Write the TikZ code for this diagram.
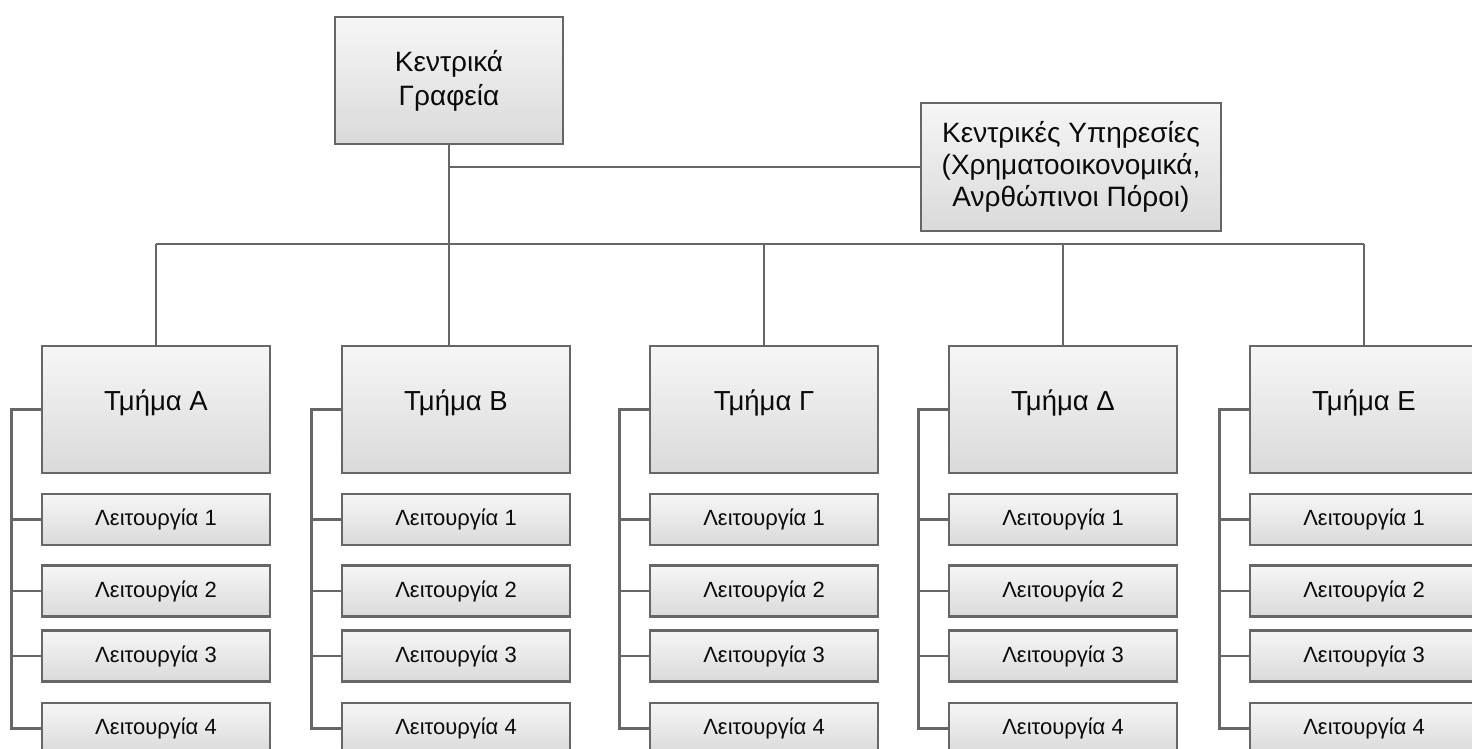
\documentclass[tikz,border=0pt]{standalone}
\usepackage{fontspec}
\setmainfont{Liberation Sans}
\definecolor{edge}{HTML}{666666}
\definecolor{boxtop}{HTML}{F6F6F6}
\definecolor{boxbot}{HTML}{DADADA}
\definecolor{txt}{HTML}{0A0A0A}
\tikzset{
  box/.style={draw=edge, line width=2.6pt, top color=boxtop, bottom color=boxbot,
    rectangle, inner sep=0pt, text=txt, align=center},
  hqbox/.style={box, minimum width=228pt, minimum height=127pt, font=\fontsize{28}{34}\selectfont},
  svcbox/.style={box, minimum width=300pt, minimum height=128pt, font=\fontsize{28}{32}\selectfont},
  deptbox/.style={box, minimum width=228pt, minimum height=127pt},
  depttext/.style={font=\fontsize{27.5}{32}\selectfont, text=txt, inner sep=0pt},
  funcbox/.style={box, minimum width=228pt, minimum height=51pt, font=\fontsize{22}{26}\selectfont},
  conn/.style={draw=edge, line width=2.6pt}
}
\begin{document}
\begin{tikzpicture}[x=1pt,y=-1pt]
\useasboundingbox (0,0) rectangle (1472,749);
\clip (0,0) rectangle (1472,749);
\fill[white] (0,0) rectangle (1472,749);

% top level
\node[hqbox] (HQ) at (449,80.5) {Κεντρικά\\Γραφεία};
\node[svcbox] (S) at (1071,167) {Κεντρικές Υπηρεσίες\\(Χρηματοοικονομικά,\\Ανρθώπινοι Πόροι)};

% departments
\foreach \n/\x/\t in {A/156/Τμήμα Α, B/456/Τμήμα Β, G/764/Τμήμα Γ, D/1063/Τμήμα Δ, E/1364/Τμήμα Ε}{
  \node[deptbox] (\n) at (\x,409.5) {};
  \node[depttext] (\n txt) at (\x,403) {\t};
  \node[funcbox] (\n1) at (\x,519.5) {Λειτουργία 1};
  \node[funcbox] (\n2) at (\x,591) {Λειτουργία 2};
  \node[funcbox] (\n3) at (\x,656) {Λειτουργία 3};
  \node[funcbox] (\n4) at (\x,728.5) {Λειτουργία 4};
}

% connectors
\coordinate (busL) at (156,244);
\coordinate (busR) at (1364,244);
\draw[conn] (HQ.south) -- (HQ.south |- B.north);
\draw[conn] (S.west) -- (HQ.south |- S.west);
\draw[conn] (busL) -- (busR);
\draw[conn] (busL) -- (A.north);
\draw[conn] (G.north |- busL) -- (G.north);
\draw[conn] (D.north |- busL) -- (D.north);
\draw[conn] (E.north |- busL) -- (E.north);
\foreach \n in {A,B,G,D,E}{
  \draw[conn] (\n.west) -- ++(-29,0) coordinate (\n rail) |- (\n4.west);
  \draw[conn] (\n1.west) -- (\n1.west -| \n rail);
  \draw[conn] (\n2.west) -- (\n2.west -| \n rail);
  \draw[conn] (\n3.west) -- (\n3.west -| \n rail);
}
\end{tikzpicture}
\end{document}
